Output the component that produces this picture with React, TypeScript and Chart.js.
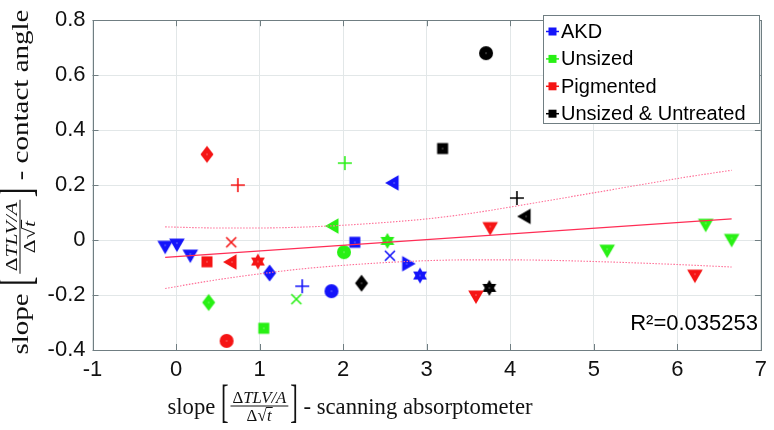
import React, { useEffect, useRef } from 'react';
import { Chart, registerables } from 'chart.js';

Chart.register(...registerables);

// ---------- data ----------
const groupNames = ['AKD', 'Unsized', 'Pigmented', 'Unsized & Untreated'];

const akdX = [-0.13, 0.01, 0.17, 1.12, 1.51, 1.86, 2.14, 2.61, 2.56, 2.76, 2.92];
const akdY = [-0.019, -0.011, -0.051, -0.120, -0.168, -0.186, -0.008, 0.208, -0.057, -0.086, -0.129];
const akdMarkers = ['v', 'v', 'v', 'd', '+', 'o', 's', '<', 'x', '>', 'h'];

const unsizedX = [2.02, 1.89, 2.01, 2.53, 1.44, 0.39, 1.05, 5.16, 6.34, 6.65];
const unsizedY = [0.280, 0.051, -0.044, -0.003, -0.215, -0.227, -0.321, -0.033, 0.061, 0.006];
const unsizedMarkers = ['+', '<', 'o', 'h', 'x', 'd', 's', 'v', 'v', 'v'];

const pigmentedX = [0.37, 0.74, 0.66, 0.37, 0.67, 0.98, 0.605, 3.76, 3.59, 6.21];
const pigmentedY = [0.312, 0.200, -0.008, -0.079, -0.080, -0.078, -0.367, 0.049, -0.200, -0.124];
const pigmentedMarkers = ['d', '+', 'x', 's', '<', 'h', 'o', 'v', 'v', 'v'];

const untreatedX = [3.71, 3.19, 4.08, 4.19, 3.75, 2.22];
const untreatedY = [0.680, 0.333, 0.153, 0.086, -0.174, -0.157];
const untreatedMarkers = ['o', 's', '+', '<', 'h', 'd'];

const fitX = [-0.13, 6.65];
const fitY = [-0.063, 0.077];

const bandX = [-0.13, 0.5, 1, 1.5, 2, 2.5, 3, 3.5, 4, 4.5, 5, 5.5, 6, 6.65];
const bandUpper = [0.048, 0.044, 0.044, 0.047, 0.054, 0.064, 0.077, 0.096, 0.120, 0.146, 0.172, 0.198, 0.224, 0.254];
const bandLower = [-0.176, -0.144, -0.123, -0.105, -0.092, -0.082, -0.075, -0.072, -0.072, -0.074, -0.078, -0.083, -0.089, -0.098];

const xTicks = [-1, 0, 1, 2, 3, 4, 5, 6, 7];
const yTicks = [-0.4, -0.2, 0, 0.2, 0.4, 0.6, 0.8];
const rSquaredText = 'R\u00B2=0.035253';
const xTitleSuffix = 'scanning absorptometer';
const yTitleSuffix = 'contact angle';

// ---------- styles ----------
const COLORS = ['rgb(20,20,250)', 'rgb(40,240,20)', 'rgb(245,20,20)', 'rgb(0,0,0)'];
const FRAME = 'rgb(112,126,130)';
const GRID = 'rgb(226,231,232)';
const SANS = '"Liberation Sans", Arial, sans-serif';
const SERIF = '"Liberation Serif", "Times New Roman", serif';

function makeMarker(shape: string, color: string): HTMLCanvasElement {
  const S = 24;
  const c = document.createElement('canvas');
  c.width = S;
  c.height = S;
  const g = c.getContext('2d')!;
  const m = S / 2;
  g.fillStyle = color;
  g.strokeStyle = color;
  g.lineWidth = 1.6;
  let filled = true;
  const tri = (angle: number) => {
    const R = 9;
    g.beginPath();
    for (let k = 0; k < 3; k++) {
      const a = angle + (k * 2 * Math.PI) / 3;
      g.lineTo(m + R * Math.cos(a), m + R * Math.sin(a));
    }
    g.closePath();
    g.fill();
  };
  switch (shape) {
    case 'v': tri(Math.PI / 2); break;
    case '<': tri(Math.PI); break;
    case '>': tri(0); break;
    case 'o':
      g.beginPath(); g.arc(m, m, 7, 0, Math.PI * 2); g.fill(); break;
    case 's':
      g.fillRect(m - 5.5, m - 5.5, 11, 11); break;
    case 'd':
      g.beginPath(); g.moveTo(m, m - 8.5); g.lineTo(m + 6.5, m); g.lineTo(m, m + 8.5); g.lineTo(m - 6.5, m); g.closePath(); g.fill(); break;
    case '+':
      filled = false;
      g.beginPath(); g.moveTo(m - 7, m); g.lineTo(m + 7, m); g.moveTo(m, m - 7); g.lineTo(m, m + 7); g.stroke(); break;
    case 'x':
      filled = false;
      g.beginPath(); g.moveTo(m - 5, m - 5); g.lineTo(m + 5, m + 5); g.moveTo(m + 5, m - 5); g.lineTo(m - 5, m + 5); g.stroke(); break;
    case 'h': {
      const R = 8, r = R / Math.sqrt(3);
      g.beginPath();
      for (let k = 0; k < 12; k++) {
        const a = -Math.PI / 2 + (k * Math.PI) / 6;
        const rr = k % 2 === 0 ? R : r;
        g.lineTo(m + rr * Math.cos(a), m + rr * Math.sin(a));
      }
      g.closePath(); g.fill(); break;
    }
  }
  if (filled) {
    g.fillStyle = 'rgba(255,255,255,0.75)';
    g.fillRect(m - 0.5, m - 0.5, 1, 1);
  }
  return c;
}

function drawMathTitle(ctx: CanvasRenderingContext2D, cx: number, cy: number, suffix: string, targetLen: number, rotate: boolean) {
  ctx.save();
  ctx.translate(cx, cy);
  if (rotate) ctx.rotate(-Math.PI / 2);
  const mainFont = `23px ${SERIF}`;
  const fracUp = `17px ${SERIF}`;
  const fracIt = `italic 17px ${SERIF}`;
  ctx.font = mainFont;
  const wSlope = ctx.measureText('slope ').width;
  const wBrL = ctx.measureText('[').width;
  const wBrR = ctx.measureText(']').width;
  const wSuf = ctx.measureText(' - ' + suffix).width;
  ctx.font = fracUp;
  const wD = ctx.measureText('\u0394').width;
  const wSq = ctx.measureText('\u221A').width;
  ctx.font = fracIt;
  const wNumRest = ctx.measureText('TLV/A').width;
  const wT = ctx.measureText('t').width;
  const wNum = wD + wNumRest;
  const wDen = wD + wSq + wT + 1;
  const wFrac = Math.max(wNum, wDen) + 4;
  const natural = wSlope + wBrL + 2 + wFrac + 2 + wBrR + wSuf;
  const sx = targetLen / natural;
  ctx.scale(sx, 1);
  ctx.fillStyle = '#111';
  ctx.strokeStyle = '#111';
  ctx.textBaseline = 'alphabetic';
  ctx.textAlign = 'left';
  let x = -natural / 2;
  ctx.font = mainFont;
  ctx.fillText('slope ', x, 0);
  x += wSlope;
  ctx.save(); ctx.translate(x, -8); ctx.scale(1, 2.0); ctx.fillText('[', 0, 5.5); ctx.restore();
  x += wBrL + 2;
  const fx = x;
  const barY = -8;
  ctx.lineWidth = 1;
  ctx.beginPath(); ctx.moveTo(fx, barY); ctx.lineTo(fx + wFrac, barY); ctx.stroke();
  let nx = fx + (wFrac - wNum) / 2;
  ctx.font = fracUp; ctx.fillText('\u0394', nx, barY - 3); nx += wD;
  ctx.font = fracIt; ctx.fillText('TLV/A', nx, barY - 3);
  let dx = fx + (wFrac - wDen) / 2;
  const denBase = barY + 15;
  ctx.font = fracUp; ctx.fillText('\u0394', dx, denBase); dx += wD;
  ctx.fillText('\u221A', dx, denBase); dx += wSq;
  ctx.beginPath(); ctx.moveTo(dx - 0.5, denBase - 13.5); ctx.lineTo(dx + wT + 1.5, denBase - 13.5); ctx.stroke();
  ctx.font = fracIt; ctx.fillText('t', dx + 0.5, denBase);
  x = fx + wFrac + 2;
  ctx.font = mainFont;
  ctx.save(); ctx.translate(x, -8); ctx.scale(1, 2.0); ctx.fillText(']', 0, 5.5); ctx.restore();
  x += wBrR;
  ctx.fillText(' - ' + suffix, x, 0);
  ctx.restore();
}

const decorPlugin = {
  id: 'decor',
  afterDraw(chart: any) {
    const ctx: CanvasRenderingContext2D = chart.ctx;
    const a = chart.chartArea;
    const xs = chart.scales.x;
    const ys = chart.scales.y;
    ctx.save();
    ctx.strokeStyle = FRAME;
    ctx.lineWidth = 1;
    ctx.strokeRect(Math.round(a.left) + 0.5, Math.round(a.top) + 0.5, Math.round(a.right - a.left), Math.round(a.bottom - a.top));
    const TL = 6;
    ctx.beginPath();
    xTicks.forEach((v) => {
      const px = Math.round(xs.getPixelForValue(v)) + 0.5;
      ctx.moveTo(px, a.bottom); ctx.lineTo(px, a.bottom - TL);
      ctx.moveTo(px, a.top); ctx.lineTo(px, a.top + TL);
    });
    yTicks.forEach((v) => {
      const py = Math.round(ys.getPixelForValue(v)) + 0.5;
      ctx.moveTo(a.left, py); ctx.lineTo(a.left + TL, py);
      ctx.moveTo(a.right, py); ctx.lineTo(a.right - TL, py);
    });
    ctx.stroke();

    const lx = 543.5, ly = 15.5, lw = 216, lh = 108;
    ctx.fillStyle = '#fff';
    ctx.fillRect(lx, ly, lw, lh);
    ctx.strokeStyle = FRAME;
    ctx.strokeRect(lx, ly, lw, lh);
    ctx.font = `20px ${SANS}`;
    ctx.textBaseline = 'middle';
    ctx.textAlign = 'left';
    groupNames.forEach((name, i) => {
      const cy = 31.5 + i * 27.4;
      ctx.strokeStyle = COLORS[i];
      ctx.fillStyle = COLORS[i];
      ctx.lineWidth = 1.5;
      ctx.beginPath(); ctx.moveTo(546, cy); ctx.lineTo(559, cy); ctx.stroke();
      ctx.fillRect(548.5, cy - 4, 8, 8);
      ctx.fillStyle = '#000';
      ctx.fillText(name, 561, cy + 1);
    });

    ctx.font = `22px ${SANS}`;
    ctx.fillStyle = '#000';
    ctx.textAlign = 'right';
    ctx.textBaseline = 'alphabetic';
    ctx.fillText(rSquaredText, 758, 330);
    ctx.restore();

    drawMathTitle(ctx, 350, 414, xTitleSuffix, 365, false);
    drawMathTitle(ctx, 28, 182, yTitleSuffix, 345, true);
  },
};

function pts(xs: number[], ys: number[]) {
  return xs.map((x, i) => ({ x, y: ys[i] }));
}

export default function App() {
  const ref = useRef<HTMLCanvasElement | null>(null);
  useEffect(() => {
    document.body.style.margin = '0';
    const canvas = ref.current!;
    const groupsX = [akdX, unsizedX, pigmentedX, untreatedX];
    const groupsY = [akdY, unsizedY, pigmentedY, untreatedY];
    const groupsM = [akdMarkers, unsizedMarkers, pigmentedMarkers, untreatedMarkers];

    const lineSets: any[] = [
      {
        label: 'fit', data: pts(fitX, fitY), showLine: true, pointRadius: 0,
        borderColor: 'rgb(255,45,85)', borderWidth: 1.1, fill: false,
      },
      {
        label: 'upper', data: pts(bandX, bandUpper), showLine: true, pointRadius: 0,
        borderColor: 'rgb(255,110,150)', borderWidth: 1.1, borderDash: [1.5, 1.5],
        cubicInterpolationMode: 'monotone', fill: false,
      },
      {
        label: 'lower', data: pts(bandX, bandLower), showLine: true, pointRadius: 0,
        borderColor: 'rgb(255,110,150)', borderWidth: 1.1, borderDash: [1.5, 1.5],
        cubicInterpolationMode: 'monotone', fill: false,
      },
    ];
    const scatterSets = groupNames.map((name, gi) => ({
      label: name,
      data: pts(groupsX[gi], groupsY[gi]),
      pointStyle: groupsM[gi].map((s) => makeMarker(s, COLORS[gi])),
      pointRadius: 8,
      backgroundColor: COLORS[gi],
      borderColor: COLORS[gi],
      showLine: false,
    }));

    const tickFont = { family: SANS, size: 22 };
    const chart = new Chart(canvas, {
      type: 'scatter',
      data: { datasets: [...lineSets, ...scatterSets] },
      options: {
        responsive: false,
        animation: false,
        events: [],
        layout: { padding: { top: 10, right: 9, left: 0, bottom: 0 } },
        plugins: { legend: { display: false }, tooltip: { enabled: false } },
        scales: {
          x: {
            type: 'linear', min: -1, max: 7,
            afterBuildTicks: (s: any) => { s.ticks = xTicks.map((v) => ({ value: v })); },
            afterFit: (s: any) => { s.height = 80; },
            grid: { color: GRID, drawTicks: false },
            border: { display: false },
            ticks: { font: tickFont, color: '#111', padding: 7, maxRotation: 0, autoSkip: false, callback: (v: any) => String(v) },
          },
          y: {
            type: 'linear', min: -0.4, max: 0.8,
            afterBuildTicks: (s: any) => { s.ticks = yTicks.map((v) => ({ value: v })); },
            afterFit: (s: any) => { s.width = 92.5; },
            grid: { color: GRID, drawTicks: false },
            border: { display: false },
            ticks: { font: tickFont, color: '#111', padding: 7, autoSkip: false, callback: (v: any) => String(Number(Number(v).toFixed(1))) },
          },
        },
      } as any,
      plugins: [decorPlugin],
    });
    return () => chart.destroy();
  }, []);
  return (
    <canvas ref={ref} width={774} height={430} style={{ display: 'block', width: 774, height: 430 }} />
  );
}
